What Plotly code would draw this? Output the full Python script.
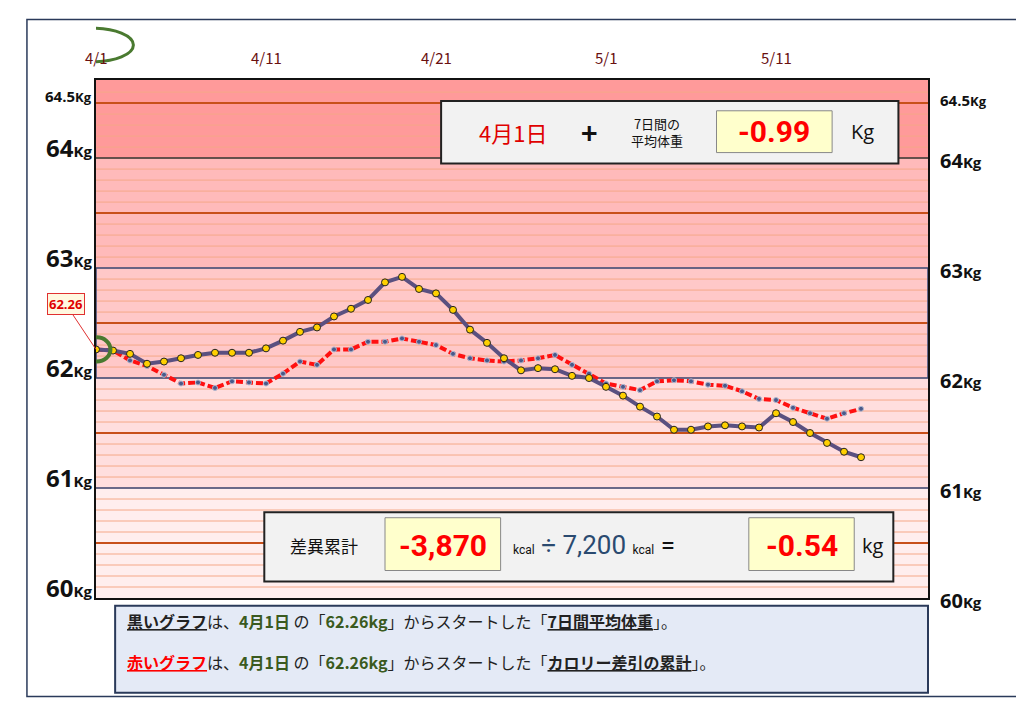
import plotly.graph_objects as go

days = list(range(46))
avg7 = [62.26,62.25,62.22,62.13,62.15,62.18,62.21,62.23,62.23,62.23,62.27,62.34,62.42,62.46,62.56,62.63,
        62.71,62.87,62.92,62.81,62.77,62.62,62.44,62.32,62.18,62.07,62.09,62.08,62.02,62.00,61.92,61.84,
        61.74,61.65,61.53,61.53,61.56,61.57,61.56,61.55,61.68,61.60,61.50,61.41,61.33,61.28]
cal = [62.26,62.25,62.16,62.11,62.03,61.95,61.96,61.91,61.97,61.96,61.95,62.04,62.15,62.12,62.26,62.26,
       62.33,62.33,62.36,62.33,62.30,62.22,62.18,62.16,62.15,62.16,62.18,62.21,62.12,62.04,61.95,61.92,
       61.89,61.97,61.98,61.97,61.94,61.93,61.88,61.81,61.80,61.73,61.68,61.63,61.68,61.72]
tick_days = [0, 10, 20, 30, 40]
tick_text = ["4/1", "4/11", "4/21", "5/1", "5/11"]
y_ticks = [64.5, 64, 63, 62, 61, 60]
y_labels = ["64.5", "64", "63", "62", "61", "60"]

XMAX = 48.94
YMIN, YMAX = 60, 64.71
fig = go.Figure()
fig.add_trace(go.Scatter(x=days, y=cal, mode="lines+markers",
    line=dict(color="#ff1010", width=4, dash="7px,3px"),
    marker=dict(size=5, color="#4a5a8a", line=dict(color="#b0b8d0", width=1))))
fig.add_trace(go.Scatter(x=days, y=avg7, mode="lines+markers",
    line=dict(color="#5a5080", width=4),
    marker=dict(size=7, color="#ffd000", line=dict(color="#222", width=1))))

shapes = []
bands = [(64, YMAX, "#ff9a9a"), (63, 64, "#ffbaba"), (62, 63, "#ffc8c8"), (61, 62, "#ffdede"), (60, 61, "#ffeeee")]
for a, b, c in bands:
    shapes.append(dict(type="rect", xref="x", yref="y", x0=0, x1=XMAX, y0=a, y1=b,
                       fillcolor=c, line=dict(width=0), layer="below"))
for i in range(1, 47):
    v = 60 + i * 0.1
    if v > YMAX: break
    shapes.append(dict(type="line", xref="x", yref="y", x0=0, x1=XMAX, y0=v, y1=v,
                       line=dict(color="#f5a888", width=1), layer="below"))
for v in [64.5, 63.5, 62.5, 61.5, 60.5]:
    shapes.append(dict(type="line", xref="x", yref="y", x0=0, x1=XMAX, y0=v, y1=v,
                       line=dict(color="#c8501a", width=2), layer="below"))
shapes.append(dict(type="line", xref="x", yref="y", x0=0, x1=XMAX, y0=64, y1=64,
                   line=dict(color="#333", width=1.5), layer="below"))
shapes.append(dict(type="rect", xref="x", yref="y", x0=0, x1=XMAX, y0=62, y1=63,
                   line=dict(color="#3a4a7a", width=1.5), layer="below"))
shapes.append(dict(type="line", xref="x", yref="y", x0=0, x1=XMAX, y0=61, y1=61,
                   line=dict(color="#3a4a7a", width=1.5), layer="below"))
shapes.append(dict(type="rect", xref="paper", yref="paper", x0=-0.083, x1=1.108, y0=-0.19, y1=1.117,
                   line=dict(color="#2a3a5a", width=1.5)))
shapes.append(dict(type="circle", xref="x", yref="paper", x0=-2.6, x1=2.2, y0=1.035, y1=1.1,
                   line=dict(color="#4a7a30", width=3)))
shapes.append(dict(type="circle", xref="x", yref="y", x0=-0.75, x1=0.85, y0=62.15, y1=62.37,
                   line=dict(color="#4a7a30", width=4)))
shapes.append(dict(type="rect", xref="x", yref="y", x0=20.3, x1=47.2, y0=63.95, y1=64.52,
                   fillcolor="#f2f2f2", line=dict(color="#222", width=2)))
shapes.append(dict(type="rect", xref="x", yref="y", x0=36.5, x1=43.3, y0=64.05, y1=64.43,
                   fillcolor="#ffffcc", line=dict(color="#888", width=1)))
shapes.append(dict(type="rect", xref="x", yref="y", x0=9.9, x1=46.9, y0=60.15, y1=60.78,
                   fillcolor="#f2f2f2", line=dict(color="#222", width=2)))
shapes.append(dict(type="rect", xref="x", yref="y", x0=17, x1=23.8, y0=60.25, y1=60.73,
                   fillcolor="#ffffcc", line=dict(color="#888", width=1)))
shapes.append(dict(type="rect", xref="x", yref="y", x0=38.4, x1=44.6, y0=60.25, y1=60.73,
                   fillcolor="#ffffcc", line=dict(color="#888", width=1)))
shapes.append(dict(type="rect", xref="paper", yref="paper", x0=0.023, x1=1.0, y0=-0.183, y1=-0.015,
                   fillcolor="#e4eaf6", line=dict(color="#2a3a5a", width=2)))

ann = []
F = "Noto Sans CJK JP"
for d, t in zip(tick_days, tick_text):
    ann.append(dict(x=d, y=1.067, xref="x", yref="paper", text=t, showarrow=False,
                    font=dict(size=15, color="#6a1010", family=F)))
for v, t in zip(y_ticks, y_labels):
    big = 24 if v != 64.5 else 15
    small = 15 if v != 64.5 else 13
    lbl = f"<span style='font-size:{big}px'><b>{t}</b></span><span style='font-size:{small}px'><b>Kg</b></span>"
    ann.append(dict(x=0, y=v, xref="paper", yref="y", text=lbl, showarrow=False, xanchor="right",
                    yanchor="middle", xshift=-2, yshift=11 if v != 64.5 else 7,
                    font=dict(color="#111", family="Open Sans")))
    rl = lbl.replace("24px", "20px")
    ann.append(dict(x=1, y=v, xref="paper", yref="y", text=rl, showarrow=False,
                    xanchor="left", xshift=10, yanchor="middle", yshift=-2 if v != 64.5 else 3,
                    font=dict(color="#111", family="Open Sans")))
ann.append(dict(x=0, y=62.26, xref="x", yref="y", ax=-30, ay=-45, text="<b>62.26</b>", showarrow=True,
                arrowcolor="#e03030", arrowwidth=1, bgcolor="#fff8e0", bordercolor="#e03030",
                font=dict(size=13, color="#e00000", family="Open Sans")))
ann.append(dict(x=24.5, y=64.24, xref="x", yref="y", text="4月1日", showarrow=False,
                font=dict(size=22, color="#e00000", family=F)))
ann.append(dict(x=29.0, y=64.24, xref="x", yref="y", text="<b>+</b>", showarrow=False,
                font=dict(size=28, color="#111", family=F)))
ann.append(dict(x=33.0, y=64.24, xref="x", yref="y", text="7日間の<br>平均体重", showarrow=False,
                font=dict(size=13, color="#111", family=F)))
ann.append(dict(x=39.9, y=64.24, xref="x", yref="y", text="<b>-0.99</b>", showarrow=False,
                font=dict(size=30, color="#ff0000", family="Liberation Sans Narrow, Roboto")))
ann.append(dict(x=45.1, y=64.24, xref="x", yref="y", text="Kg", showarrow=False,
                font=dict(size=20, color="#111", family="Open Sans")))
ann.append(dict(x=13.4, y=60.48, xref="x", yref="y", text="差異累計", showarrow=False,
                font=dict(size=17, color="#111", family=F)))
ann.append(dict(x=20.4, y=60.48, xref="x", yref="y", text="<b>-3,870</b>", showarrow=False,
                font=dict(size=30, color="#ff0000", family="Liberation Sans Narrow, Roboto")))
ann.append(dict(x=29.3, y=60.48, xref="x", yref="y",
                text="<span style='font-size:12px;color:#111'>kcal</span> ÷ 7,200 <span style='font-size:12px;color:#111'>kcal</span><span style='color:#111'> =</span>",
                showarrow=False, font=dict(size=26, color="#2a4a70", family="Roboto")))
ann.append(dict(x=41.5, y=60.48, xref="x", yref="y", text="<b>-0.54</b>", showarrow=False,
                font=dict(size=30, color="#ff0000", family="Liberation Sans Narrow, Roboto")))
ann.append(dict(x=45.7, y=60.48, xref="x", yref="y", text="kg", showarrow=False,
                font=dict(size=20, color="#111", family="Open Sans")))
G = "color:#3a5a20;font-weight:bold"
line1 = (f"<u><b>黒いグラフ</b></u>は、<span style='{G}'>4月1日</span> の「<span style='{G}'>62.26kg</span>」"
         "からスタートした「<u><b>7日間平均体重</b></u>」。")
line2 = (f"<span style='color:#ff0000'><u><b>赤いグラフ</b></u></span>は、<span style='{G}'>4月1日</span> の「<span style='{G}'>62.26kg</span>」"
         "からスタートした「<u><b>カロリー差引の累計</b></u>」。")
ann.append(dict(x=0.035, y=-0.072, xref="paper", yref="paper", text=line1, showarrow=False, xanchor="left",
                font=dict(size=16, color="#222", family=F)))
ann.append(dict(x=0.035, y=-0.15, xref="paper", yref="paper", text=line2, showarrow=False, xanchor="left",
                font=dict(size=16, color="#222", family=F)))

fig.update_layout(width=1024, height=709, margin=dict(l=88, r=104, t=72, b=119, autoexpand=False),
                  paper_bgcolor="white", plot_bgcolor="white", showlegend=False,
                  shapes=shapes, annotations=ann)
fig.update_xaxes(range=[0, XMAX], showgrid=False, showticklabels=False, zeroline=False,
                 showline=True, linecolor="#111", linewidth=2, mirror=True)
fig.update_yaxes(range=[YMIN, YMAX], showgrid=False, showticklabels=False, zeroline=False,
                 showline=True, linecolor="#111", linewidth=2, mirror=True)
fig.write_html("out.html")
